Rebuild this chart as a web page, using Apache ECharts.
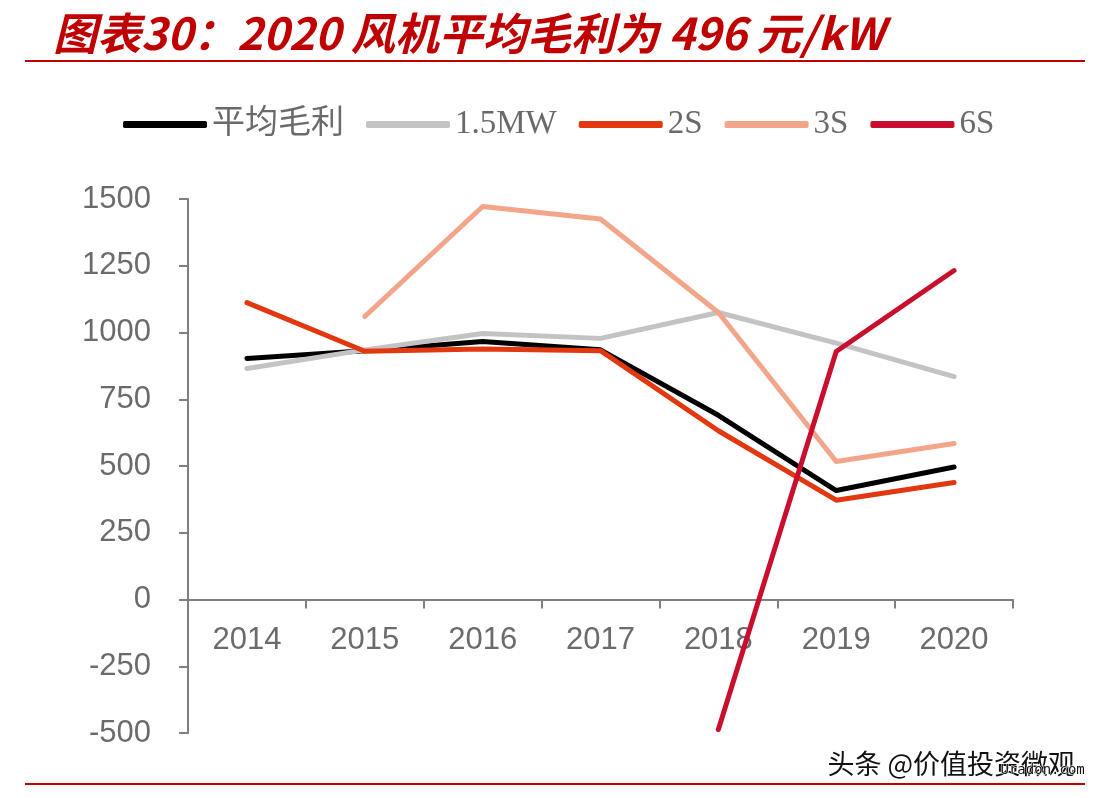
<!DOCTYPE html>
<html>
<head>
<meta charset="utf-8">
<script src="https://cdn.jsdelivr.net/npm/echarts@6/dist/echarts.min.js"></script>
<style>
html,body{margin:0;padding:0;background:#fff;}
#chart{width:1108px;height:798px;}
</style>
</head>
<body>
<div id="chart"></div>
<script>
const categories = ['2014','2015','2016','2017','2018','2019','2020'];
const avgMargin = [903, 932, 966, 935, 690, 408, 496];
const mw15 = [865, 935, 996, 978, 1075, 960, 835];
const s2 = [1112, 930, 938, 932, 632, 372, 438];
const s3 = [null, 1060, 1472, 1425, 1075, 517, 584];
const s6 = [null, null, null, null, -487, 929, 1232];
const seriesNames = ['平均毛利', '1.5MW', '2S', '3S', '6S'];
const seriesColors = ['#000000', '#c3c3c5', '#e2380f', '#f3a58a', '#c8102e'];
const yTicks = { min: -500, max: 1500, interval: 250 };

const chart = echarts.init(document.getElementById('chart'), null, {renderer: 'canvas'});
const dataSets = [avgMargin, mw15, s2, s3, s6];

const gridTop = 199, gridBottom = 65, chartH = 798;
const plotH = chartH - gridTop - gridBottom;
// pixel distance from grid bottom (value min) up to value 0
const zeroOffset = plotH * (0 - yTicks.min) / (yTicks.max - yTicks.min);

const option = {
  backgroundColor: '#ffffff',
  animation: false,
  title: {
    text: '图表30：2020 风机平均毛利为 496 元/kW',
    left: 48, top: 6,
    textStyle: {
      color: '#c00000', fontSize: 44, fontWeight: 'bold', fontStyle: 'italic',
      fontFamily: '"Noto Sans CJK SC", "Liberation Sans", sans-serif'
    }
  },
  legend: {
    left: 118, top: 103,
    itemWidth: 84, itemHeight: 7, itemGap: 22,
    icon: 'roundRect',
    data: seriesNames,
    textStyle: {
      color: '#6a6a6a', fontSize: 33,
      fontFamily: '"Liberation Serif", "Noto Sans CJK SC", serif'
    }
  },
  grid: { left: 188, right: 95, top: gridTop, bottom: gridBottom },
  xAxis: {
    type: 'category',
    data: categories,
    boundaryGap: true,
    offset: -zeroOffset,
    axisLine: { onZero: false, lineStyle: { color: '#7f7f7f', width: 2 } },
    axisTick: { show: true, length: 9, inside: false, lineStyle: { color: '#7f7f7f', width: 2 } },
    axisLabel: {
      margin: 25, color: '#6b6b6b', fontSize: 31,
      fontFamily: '"Liberation Sans", Arial, sans-serif'
    },
    splitLine: { show: false }
  },
  yAxis: {
    type: 'value',
    min: yTicks.min, max: yTicks.max, interval: yTicks.interval,
    axisLine: { show: true, lineStyle: { color: '#7f7f7f', width: 2 } },
    axisTick: { show: true, length: 9, lineStyle: { color: '#7f7f7f', width: 2 } },
    axisLabel: {
      margin: 37, color: '#6b6b6b', fontSize: 31,
      fontFamily: '"Liberation Sans", Arial, sans-serif',
      formatter: v => String(v)
    },
    splitLine: { show: false }
  },
  series: seriesNames.map((name, i) => ({
    name: name,
    type: 'line',
    data: dataSets[i],
    color: seriesColors[i],
    showSymbol: false,
    symbol: 'none',
    connectNulls: false,
    lineStyle: { color: seriesColors[i], width: 5, cap: 'round', join: 'round' },
    z: 2 + i
  })),
  graphic: [
    { type: 'line', shape: { x1: 25, y1: 61, x2: 1085, y2: 61 }, style: { stroke: '#c00000', lineWidth: 2 } },
    { type: 'line', shape: { x1: 25, y1: 784, x2: 1085, y2: 784 }, style: { stroke: '#c00000', lineWidth: 2 } },
    { type: 'text', left: 826, top: 749, z: 100,
      style: { text: '头条 @价值投资微观', fill: '#111', stroke: '#fff', lineWidth: 3,
        font: '27px "Noto Sans CJK SC", sans-serif' } },
    { type: 'text', left: 1000, top: 763, z: 101,
      style: { text: 'Uradon.com', fill: '#111', stroke: '#fff', lineWidth: 1,
        font: '14px "DejaVu Sans Mono", monospace' } }
  ]
};
chart.setOption(option);
</script>
</body>
</html>
